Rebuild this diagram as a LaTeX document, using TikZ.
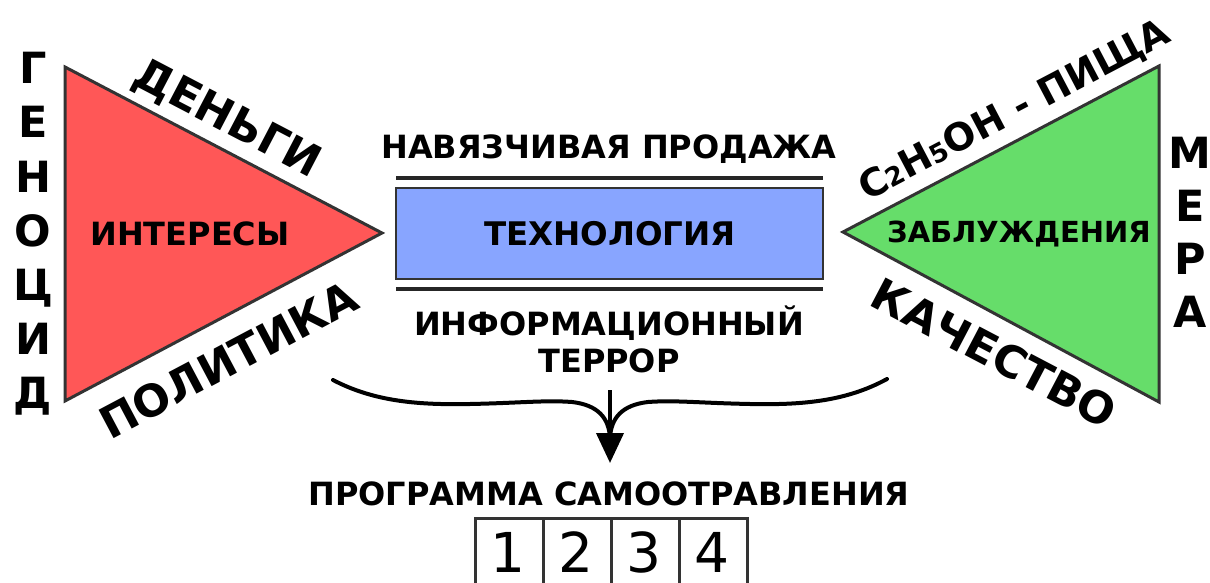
\documentclass[tikz,border=0pt]{standalone}
\usepackage{fontspec}
\setmainfont{DejaVu Sans}
\usetikzlibrary{arrows.meta}
\definecolor{redf}{HTML}{FF5757}
\definecolor{greenf}{HTML}{66DD6A}
\definecolor{bluef}{HTML}{88A5FF}
\definecolor{edgec}{HTML}{333333}
\newcommand\myfs[1]{\fontsize{#1}{#1}\selectfont\bfseries}
\newcommand\myfr[1]{\fontsize{#1}{#1}\selectfont}
\begin{document}
\begin{tikzpicture}[x=1pt,y=-1pt,
  lbl/.style={inner sep=0pt,anchor=base},
  tri/.style={draw=edgec,line width=3pt,line join=miter},
  bar/.style={draw=black!85,line width=3.2pt},
  cell/.style={draw=edgec,line width=2.6pt,minimum width=68pt,minimum height=70pt,inner sep=0pt,anchor=north west},
  brace/.style={line width=4pt,line cap=round}]
\useasboundingbox (0,0) rectangle (1210,583);
% triangles
\coordinate (rA) at (65,67); \coordinate (rB) at (382,233); \coordinate (rC) at (65,401);
\coordinate (gA) at (843,232); \coordinate (gB) at (1159,66); \coordinate (gC) at (1159,402);
\draw[tri,fill=redf] (rA) -- (rB) -- (rC) -- cycle;
\draw[tri,fill=greenf] (gA) -- (gB) -- (gC) -- cycle;
% technology box
\node[draw=edgec,line width=2.4pt,fill=bluef,minimum width=427pt,minimum height=91pt,inner sep=0pt] (tech) at (609.5,233.5) {};
\node[lbl] (techt) at (610,245) {\myfs{32.5}ТЕХНОЛОГИЯ};
\coordinate (tl1) at (396,178); \coordinate (tl2) at (823,178);
\coordinate (bl1) at (396,289); \coordinate (bl2) at (823,289);
\draw[bar] (tl1) -- (tl2);
\draw[bar] (bl1) -- (bl2);
\node[lbl] (nav) at (609,158) {\myfs{32}НАВЯЗЧИВАЯ ПРОДАЖА};
\node[lbl] (inf1) at (609,335) {\myfs{32}ИНФОРМАЦИОННЫЙ};
\node[lbl] (inf2) at (609,372) {\myfs{32}ТЕРРОР};
% triangle labels
\node[lbl] (int) at (190,245) {\myfs{32}ИНТЕРЕСЫ};
\node[lbl] (zab) at (1019,242) {\myfs{29}ЗАБЛУЖДЕНИЯ};
\node[lbl,rotate=-27.6] (den) at (221,131) {\myfs{44}ДЕНЬГИ};
\node[lbl,rotate=27.9] (pol) at (236,374) {\myfs{44}ПОЛИТИКА};
\node[lbl,rotate=27.7] (c2h5) at (1020,121) {\myfs{38}C\myfs{26}2\myfs{38}H\myfs{26}5\myfs{38}OH - ПИЩА};
\node[lbl,rotate=-27.7] (kach) at (987,367) {\myfs{44}КАЧЕСТВО};
% vertical words
\foreach \c [count=\i from 0] in {Г,Е,Н,О,Ц,И,Д}{
  \node[lbl] (gen\i) at (33,84+54*\i) {\myfs{43}\c};
}
\foreach \c [count=\i from 0] in {М,Е,Р,А}{
  \node[lbl] (mer\i) at (1190,168+53*\i) {\myfs{43}\c};
}
% brace and arrow
\coordinate (bL) at (333,380); \coordinate (bR) at (887,379);
\coordinate (bM) at (610,438);
\draw[brace] (bL) .. controls (375,402) and (420,405) .. (470,404)
  .. controls (520,403) and (545,400) .. (572,402)
  .. controls (598,405) and (609,418) .. (bM);
\draw[brace] (bR) .. controls (845,402) and (800,405) .. (750,404)
  .. controls (700,403) and (675,400) .. (648,402)
  .. controls (622,405) and (611,418) .. (bM);
\coordinate (arrS) at (610,390); \coordinate (arrT) at (610,463);
\draw[line width=4pt,-{Triangle[length=30pt,width=27pt]}] (arrS) -- (arrT);
\node[lbl] (prog) at (609,505) {\myfs{32}ПРОГРАММА САМООТРАВЛЕНИЯ};
% cells
\foreach \d [count=\i from 0] in {1,2,3,4}{
  \node[cell] (c\i) at (474+68*\i,517) {};
  \node[lbl] (d\i) at (508+68*\i,572) {\myfr{55}\d};
}
\end{tikzpicture}
\end{document}
